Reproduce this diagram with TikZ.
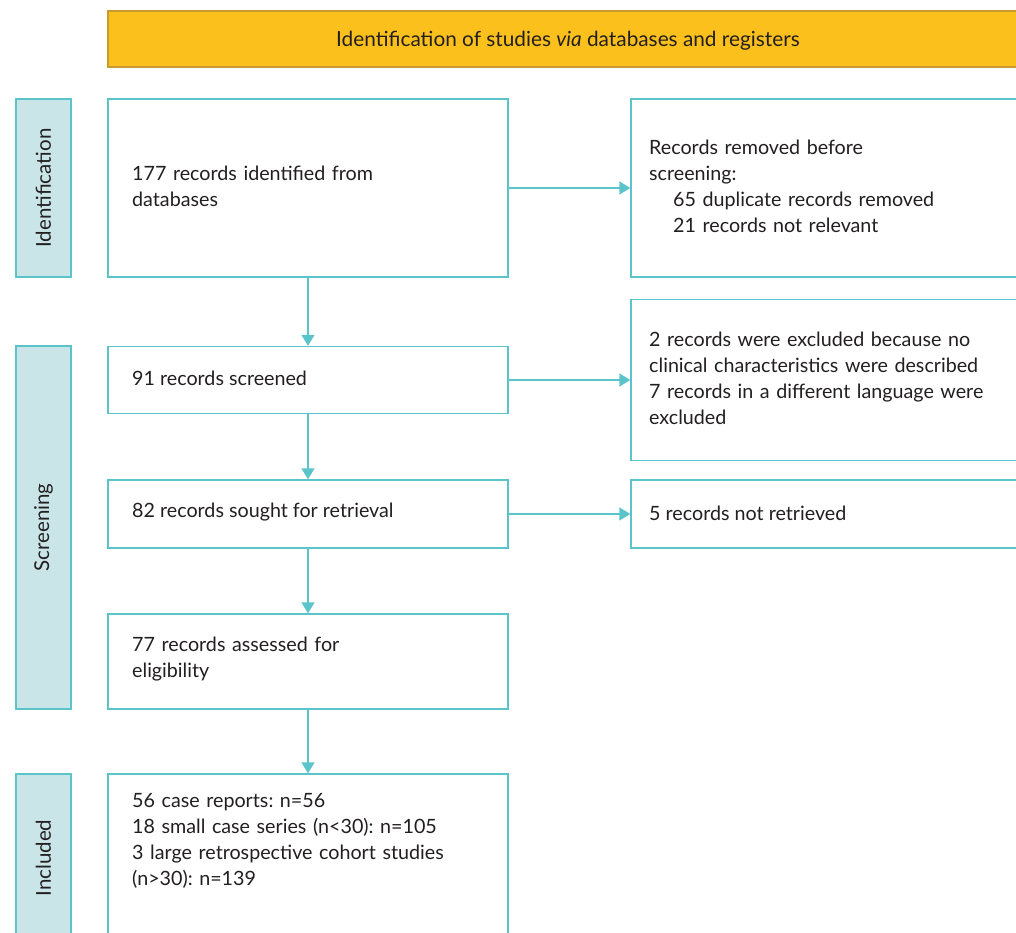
\documentclass[tikz,border=0pt]{standalone}
\usepackage{fontspec}
\setmainfont{Lato}
\usetikzlibrary{arrows.meta}
\definecolor{teal}{HTML}{5BC4CB}
\definecolor{sidefill}{HTML}{C9E5E8}
\definecolor{bannerfill}{HTML}{FBC01B}
\definecolor{bannerdraw}{HTML}{C99A2E}
\definecolor{txt}{HTML}{231F20}
\frenchspacing
\begin{document}
\begin{tikzpicture}[x=1pt,y=-1pt,
  every node/.style={font=\fontsize{19.7}{26}\selectfont, text=txt},
  box/.style={draw=teal, line width=1.4pt, fill=white, rectangle, minimum width=400pt, text width=352pt, inner xsep=24pt, align=left},
  rbox/.style={draw=teal, line width=1.4pt, fill=white, rectangle, minimum width=397pt, text width=361pt, inner xsep=18pt, align=left},
  side/.style={draw=teal, line width=1.4pt, fill=sidefill, rectangle, minimum width=55pt},
  sidelabel/.style={rotate=90, font=\fontsize{20.5}{26}\selectfont},
  banner/.style={draw=bannerdraw, line width=1.2pt, fill=bannerfill, rectangle, minimum width=920pt, minimum height=56pt},
  bannertext/.style={font=\fontsize{20.8}{26}\selectfont},
  arr/.style={draw=teal, line width=1.4pt, -{Triangle[width=13pt,length=11pt]}}
]
\useasboundingbox (0,0) rectangle (1016,933);
\clip (0,0) rectangle (1016,933);
\node[banner] (ban) at (568,39) {};
\node[bannertext] (bant) at (568,41) {Identification of studies \textit{via} databases and registers};
\node[side, minimum height=178pt] (s1) at (43.5,188) {};
\node[sidelabel] (l1) at (s1.center) {Identification};
\node[side, minimum height=363pt] (s2) at (43.5,527.5) {};
\node[sidelabel] (l2) at (s2.center) {Screening};
\node[side, minimum height=168pt] (s3) at (43.5,858) {};
\node[sidelabel] (l3) at (s3.center) {Included};

\node[box, minimum height=178pt] (b1) at (308,188) {};
\node[anchor=west, text width=352pt, align=left, inner sep=0pt] (t1) at (132,186) {177 records identified from\\databases};
\node[box, minimum height=67pt] (b2) at (308,380) {};
\node[anchor=west, inner sep=0pt] (t2) at (132,378.5) {91 records screened};
\node[box, minimum height=68pt] (b3) at (308,514) {};
\node[anchor=west, inner sep=0pt] (t3) at (132,512.5) {82 records sought for retrieval};
\node[box, minimum height=95pt] (b4) at (308,661.5) {};
\node[anchor=west, text width=352pt, align=left, inner sep=0pt] (t4) at (132,659.5) {77 records assessed for\\eligibility};
\node[box, minimum height=168pt] (b5) at (308,858) {};
\node[anchor=west, text width=352pt, align=left, inner sep=0pt] (t5) at (132,841) {56 case reports: n=56\\18 small case series (n<30): n=105\\3 large retrospective cohort studies\\(n>30): n=139};

\node[rbox, minimum height=178pt] (r1) at (829.5,188) {};
\node[anchor=west, text width=361pt, align=left, inner sep=0pt] (u1) at (649,186) {Records removed before\\screening:\\\hspace*{24pt}65 duplicate records removed\\\hspace*{24pt}21 records not relevant};
\node[rbox, minimum height=161pt] (r2) at (829.5,380) {};
\node[anchor=west, text width=361pt, align=left, inner sep=0pt] (u2) at (649,378) {2 records were excluded because no\\clinical characteristics were described\\7 records in a different language were\\excluded};
\node[rbox, minimum height=68pt] (r3) at (829.5,514) {};
\node[anchor=west, inner sep=0pt] (u3) at (649,513) {5 records not retrieved};

\draw[arr] (b1.south) -- (b2.north);
\draw[arr] (b2.south) -- (b3.north);
\draw[arr] (b3.south) -- (b4.north);
\draw[arr] (b4.south) -- (b5.north);
\draw[arr] (b1.east) -- (r1.west);
\draw[arr] (b2.east) -- (r2.west);
\draw[arr] (b3.east) -- (r3.west);
\end{tikzpicture}
\end{document}
